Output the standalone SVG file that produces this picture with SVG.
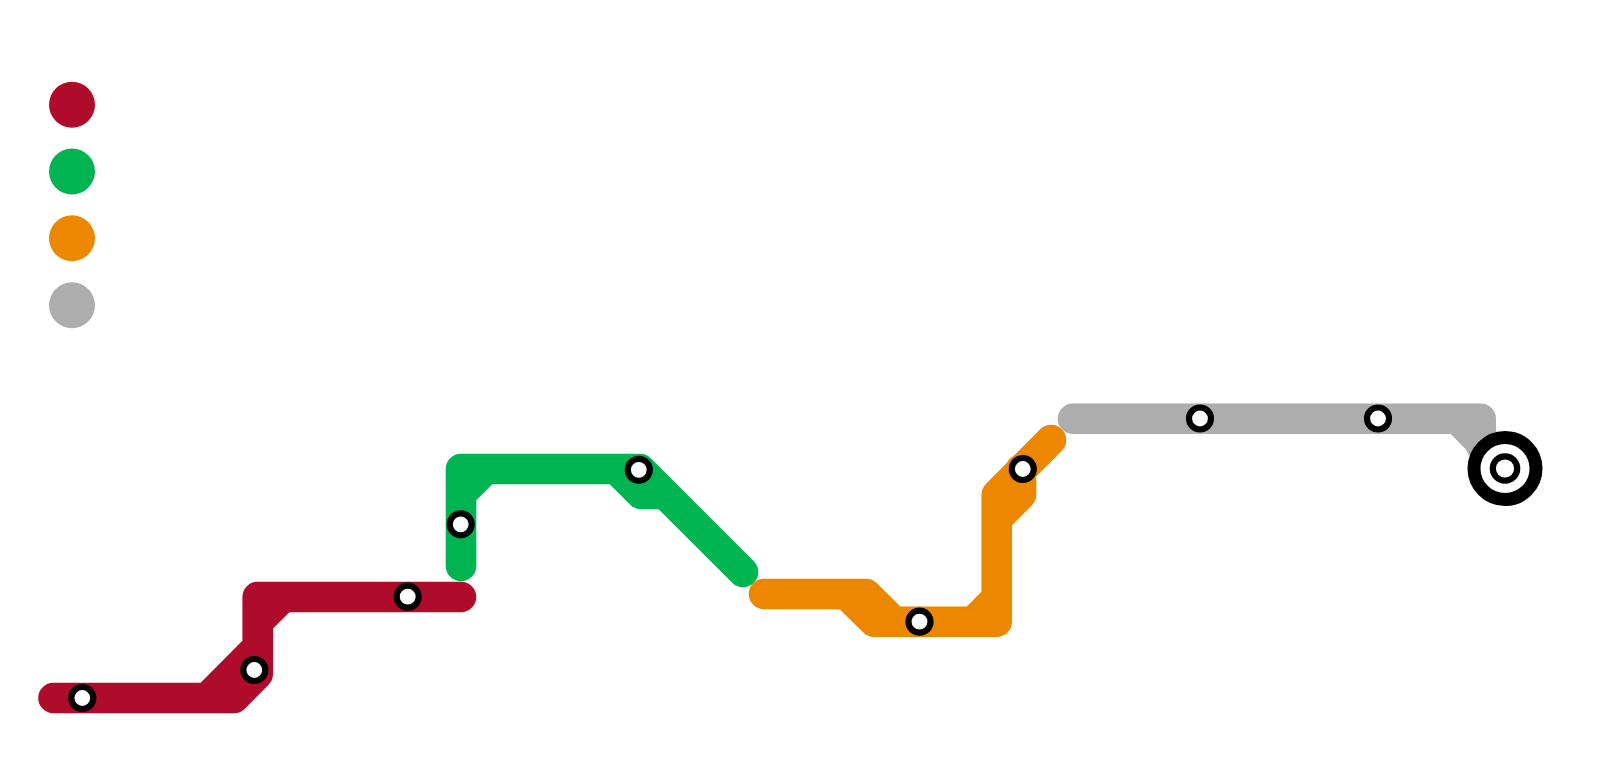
<svg xmlns="http://www.w3.org/2000/svg" width="1600" height="773" viewBox="0 0 1600 773">
<style>
.line{fill:none;stroke-width:30.6;stroke-linecap:round;stroke-linejoin:round}
.st{fill:#fff;stroke:#000;stroke-width:6.2}
.r{stroke:#af0c2c}.g{stroke:#00b551}.o{stroke:#ee8700}.y{stroke:#adadad}
</style>
<rect width="1600" height="773" fill="#fff"/>
<g id="legend">
<circle id="legend-red" cx="72" cy="104.7" r="23" fill="#af0c2c"/>
<circle id="legend-green" cx="72" cy="171.5" r="23" fill="#00b551"/>
<circle id="legend-orange" cx="72" cy="238.3" r="23" fill="#ee8700"/>
<circle id="legend-gray" cx="72" cy="305.3" r="23" fill="#adadad"/>
</g>
<g id="connectors">
<path class="line r" d="M53.5,698H207L257.7,647V597H461M200,698H234L257.7,674V640M257.7,622L283,597"/>
<path class="line g" d="M461,566V469H640L743,572M461,494L486,469M616,469L641,494H664"/>
<path class="line o" d="M764,594H866L894,621.7H996.7V494.7L1051,440M846,594L874,621.7H900M973,621.7L996.7,598M996.7,519L1021,494.5V469"/>
<path class="line y" d="M1073,418.7H1480.7V445M1457,418.7L1505,467"/>
</g>
<g id="station-1"><circle class="st" cx="82.3" cy="698" r="11"/></g>
<g id="station-2"><circle class="st" cx="254.3" cy="670" r="11"/></g>
<g id="station-3"><circle class="st" cx="407.7" cy="596.7" r="11"/></g>
<g id="station-4"><circle class="st" cx="460.7" cy="524.3" r="11"/></g>
<g id="station-5"><circle class="st" cx="638.8" cy="469.8" r="11"/></g>
<g id="station-6"><circle class="st" cx="919.5" cy="621.7" r="11"/></g>
<g id="station-7"><circle class="st" cx="1022.8" cy="469" r="11"/></g>
<g id="station-8"><circle class="st" cx="1200" cy="418.5" r="11"/></g>
<g id="station-9"><circle class="st" cx="1378" cy="418.5" r="11"/></g>
<g id="terminal"><circle cx="1505" cy="468.5" r="31" fill="#fff" stroke="#000" stroke-width="13"/><circle class="st" cx="1505" cy="468.5" r="12.2"/></g>
</svg>
